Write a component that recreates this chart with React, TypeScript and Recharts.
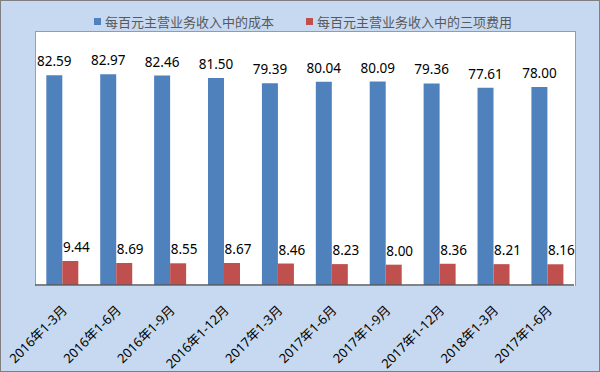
import { BarChart, Bar, XAxis, YAxis, LabelList } from "recharts";

const periods = [
  "2016年1-3月", "2016年1-6月", "2016年1-9月", "2016年1-12月", "2017年1-3月",
  "2017年1-6月", "2017年1-9月", "2017年1-12月", "2018年1-3月", "2017年1-6月",
];
const costPer100 = [82.59, 82.97, 82.46, 81.5, 79.39, 80.04, 80.09, 79.36, 77.61, 78.0];
const expensePer100 = [9.44, 8.69, 8.55, 8.67, 8.46, 8.23, 8.0, 8.36, 8.21, 8.16];

const costName = "每百元主营业务收入中的成本";
const expenseName = "每百元主营业务收入中的三项费用";

const data = periods.map((p, i) => ({
  period: p,
  cost: costPer100[i],
  expense: expensePer100[i],
}));

const font = "'Noto Sans', 'Noto Sans CJK SC', sans-serif";

function AngledTick(props: any) {
  const { x, y, payload } = props;
  const ax = x + 6;
  const ay = y + 18;
  return (
    <text
      x={ax}
      y={ay}
      transform={`rotate(-45, ${ax}, ${ay})`}
      textAnchor="end"
      fontSize={13}
      fill="#000"
      fontFamily={font}
    >
      {payload.value}
    </text>
  );
}

function Swatch({ color }: { color: string }) {
  return <span style={{ display: "inline-block", width: 7, height: 7, background: color, marginRight: 4 }} />;
}

export default function App() {
  return (
    <div
      style={{
        position: "absolute",
        left: 0,
        top: 0,
        width: 600,
        height: 372,
        boxSizing: "border-box",
        background: "#C6D9F1",
        border: "1px solid #7f7f7f",
        fontFamily: font,
      }}
    >
      <div
        style={{
          position: "absolute",
          left: 34,
          top: 30,
          width: 539,
          height: 254,
          background: "#fff",
          borderTop: "1px solid #7f9fcf",
          borderRight: "1px solid #7f9fcf",
          borderLeft: "1px solid #a0a0a0",
        }}
      />
      <div
        style={{
          position: "absolute",
          top: 11,
          left: 93,
          fontSize: 13,
          color: "#595959",
          display: "flex",
          alignItems: "center",
          whiteSpace: "nowrap",
        }}
      >
        <Swatch color="#4F81BD" />
        <span style={{ marginRight: 32 }}>{costName}</span>
        <Swatch color="#C0504D" />
        <span>{expenseName}</span>
      </div>
      <div style={{ position: "absolute", left: -1, top: -1 }}>
        <BarChart
          width={600}
          height={372}
          data={data}
          margin={{ top: 31, right: 26, left: 35, bottom: 7 }}
          barGap={0}
          barCategoryGap="21%"
        >
          <XAxis
            dataKey="period"
            interval={0}
            height={80}
            tickLine={false}
            axisLine={{ stroke: "#5a5a5a", strokeWidth: 1.5 }}
            tick={<AngledTick />}
          />
          <YAxis hide domain={[0, 100]} />
          <Bar dataKey="cost" name={costName} fill="#4F81BD" isAnimationActive={false}>
            <LabelList
              dataKey="cost"
              position="top"
              offset={9}
              formatter={(v: any) => Number(v).toFixed(2)}
              style={{ fontSize: 13.5, fill: "#000", fontFamily: font }}
            />
          </Bar>
          <Bar dataKey="expense" name={expenseName} fill="#C0504D" isAnimationActive={false}>
            <LabelList
              dataKey="expense"
              position="top"
              offset={9}
              dx={6}
              formatter={(v: any) => Number(v).toFixed(2)}
              style={{ fontSize: 13.5, fill: "#000", fontFamily: font }}
            />
          </Bar>
        </BarChart>
      </div>
    </div>
  );
}
